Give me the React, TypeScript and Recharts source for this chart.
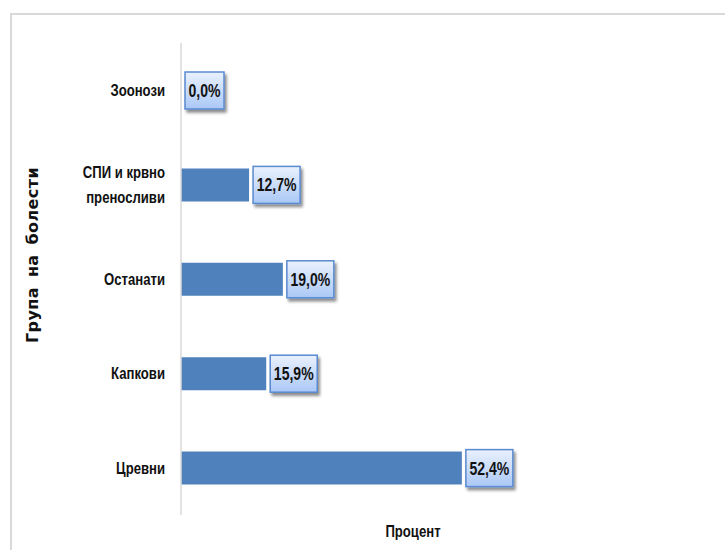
import React from "react";
import { BarChart, Bar, XAxis, YAxis, LabelList, Label } from "recharts";

const categories = ["Зоонози", "СПИ и крвно преносливи", "Останати", "Капкови", "Цревни"];
const tickLines: string[][] = [["Зоонози"], ["СПИ и крвно", "преносливи"], ["Останати"], ["Капкови"], ["Цревни"]];
const values = [0.0, 12.7, 19.0, 15.9, 52.4];
const valueLabels = ["0,0%", "12,7%", "19,0%", "15,9%", "52,4%"];

const data = categories.map((c, i) => ({ name: c, value: values[i], label: valueLabels[i], lines: tickLines[i] }));

const FONT = "'Liberation Sans', Arial, sans-serif";

const NarrowText = ({ x, y, anchor, size, sx = 0.82, children }: any) => (
  <g transform={`translate(${x},${y}) scale(${sx},1)`}>
    <text x={0} y={0} textAnchor={anchor} fontFamily={FONT} fontWeight="bold" fontSize={size} fill="#111">
      {children}
    </text>
  </g>
);

const CategoryTick = (props: any) => {
  const { x, y, payload } = props;
  const item = data.find((d) => d.name === payload.value);
  const lines = item ? item.lines : [payload.value];
  const lh = 25;
  const start = y - ((lines.length - 1) * lh) / 2;
  return (
    <g>
      {lines.map((l: string, i: number) => (
        <NarrowText key={i} x={x} y={start + i * lh + 6} anchor="end" size={16}>
          {l}
        </NarrowText>
      ))}
    </g>
  );
};

const ValueBox = (props: any) => {
  const { x, y, width, height, value } = props;
  const text = String(value);
  const w = text.length * 8 + 7;
  const h = 37;
  const bx = x + Math.max(width, 0) + 4;
  const by = y + height / 2 - h / 2;
  return (
    <g>
      <rect x={bx} y={by} width={w} height={h} fill="url(#boxGrad)" stroke="#5a8ad0" strokeWidth={1.5} filter="url(#boxShadow)" />
      <NarrowText x={bx + w / 2} y={by + h / 2 + 6.5} anchor="middle" size={18} sx={0.78}>
        {text}
      </NarrowText>
    </g>
  );
};

export default function App() {
  return (
    <div style={{ position: "absolute", left: 0, top: 0, width: 725, height: 550, background: "#fff" }}>
      <div
        style={{
          position: "absolute",
          left: 10,
          top: 13,
          width: 715,
          height: 537,
          borderTop: "2px solid #d9d9d9",
          borderLeft: "2px solid #d9d9d9",
          boxSizing: "border-box",
        }}
      />
      <div style={{ position: "absolute", left: 0, top: 0 }}>
        <BarChart width={725} height={550} data={data} layout="vertical" margin={{ top: 43, right: 8, bottom: 35, left: 0 }}>
          <defs>
            <linearGradient id="boxGrad" x1="0" y1="0" x2="0" y2="1">
              <stop offset="0%" stopColor="#eaf1fd" />
              <stop offset="100%" stopColor="#aac8f6" />
            </linearGradient>
            <filter id="boxShadow" x="-20%" y="-20%" width="150%" height="160%">
              <feDropShadow dx={2} dy={3} stdDeviation={1.8} floodColor="#000" floodOpacity={0.45} />
            </filter>
          </defs>
          <XAxis type="number" domain={[0, 100]} hide />
          <YAxis
            type="category"
            dataKey="name"
            width={181}
            axisLine={{ stroke: "#d9d9d9", strokeWidth: 1.5 }}
            tickLine={false}
            tickSize={0}
            tickMargin={16}
            tick={<CategoryTick />}
            interval={0}
          >
            <Label
              content={() => (
                <text
                  x={33}
                  y={255}
                  transform="rotate(-90 33 255)"
                  textAnchor="middle"
                  dominantBaseline="middle"
                  fontFamily="'DejaVu Sans', sans-serif"
                  fontWeight="bold"
                  fontSize={16}
                  letterSpacing={0.4}
                  wordSpacing={4}
                  fill="#111"
                >
                  Група на болести
                </text>
              )}
            />
          </YAxis>
          <Bar dataKey="value" fill="#4f81bd" barSize={33} minPointSize={0.01} isAnimationActive={false}>
            <LabelList dataKey="label" content={<ValueBox />} />
          </Bar>
          <NarrowText x={413} y={537} anchor="middle" size={16}>
            Процент
          </NarrowText>
        </BarChart>
      </div>
    </div>
  );
}
